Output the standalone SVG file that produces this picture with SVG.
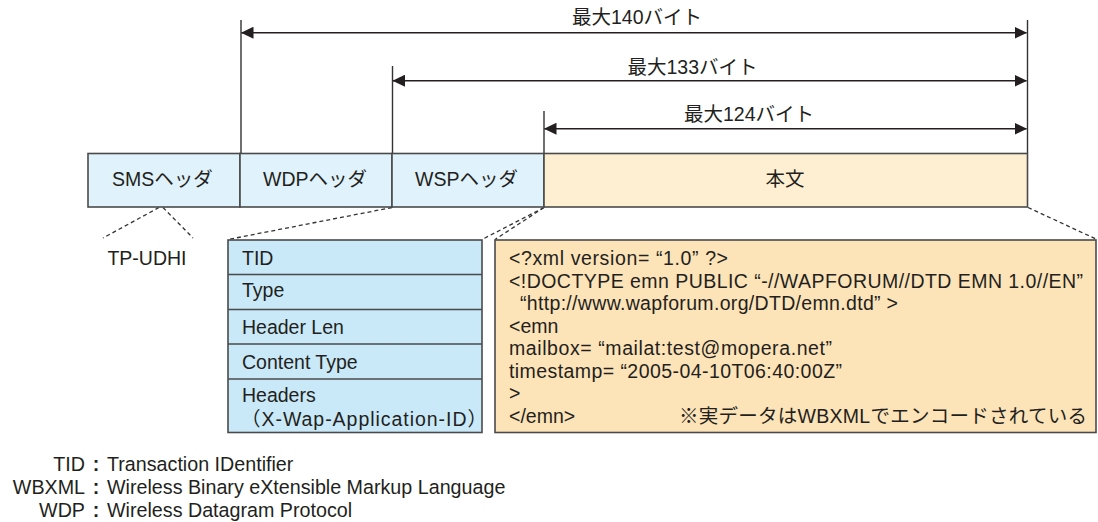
<svg xmlns="http://www.w3.org/2000/svg" width="1098" height="522" viewBox="0 0 1098 522">
<defs>
<marker id="ah" markerUnits="userSpaceOnUse" markerWidth="13" markerHeight="12" refX="12" refY="6" orient="auto-start-reverse">
<path d="M0,0 L12.5,6 L0,12 z" fill="#231f20"/>
</marker>
<style>
text{font-family:"Liberation Sans","Noto Sans CJK JP",sans-serif;font-size:19.5px;fill:#231f20}
.c{text-anchor:middle}
.hb{fill:#e0f2fb;stroke:#4a4a4a;stroke-width:1.6}
.bb{fill:#feefd2;stroke:#4a4a4a;stroke-width:1.6}
.tb{fill:#c9e9f8;stroke:#4a4a4a;stroke-width:1.6}
.cb{fill:#fde3b8;stroke:#4a4a4a;stroke-width:1.6}
.rl{stroke:#4a4a4a;stroke-width:1.4}
.vl{stroke:#333;stroke-width:1.4;fill:none}
.ar{stroke:#231f20;stroke-width:1.6;fill:none;marker-start:url(#ah);marker-end:url(#ah)}
.dl{stroke:#333;stroke-width:1.3;stroke-dasharray:4 3;fill:none}
.cj{font-family:"Noto Sans CJK JP",sans-serif}
.lg{font-size:19.7px}
.co{font-weight:bold;text-anchor:middle}
</style>
</defs>
<rect width="1098" height="522" fill="#fff"/>

<g id="connectors">
<line class="vl" x1="241" y1="20" x2="241" y2="153"/>
<line class="vl" x1="392.5" y1="66" x2="392.5" y2="153"/>
<line class="vl" x1="544" y1="111" x2="544" y2="153"/>
<line class="vl" x1="1027.5" y1="20" x2="1027.5" y2="153"/>
<line class="ar" x1="241.5" y1="32.7" x2="1026.5" y2="32.7"/>
<line class="ar" x1="393" y1="80.7" x2="1026.5" y2="80.7"/>
<line class="ar" x1="544.5" y1="128.7" x2="1026.5" y2="128.7"/>
<line class="dl" x1="159" y1="207.5" x2="103" y2="238"/>
<line class="dl" x1="163" y1="207.5" x2="193" y2="238"/>
<line class="dl" x1="392" y1="207.5" x2="228" y2="239.5"/>
<line class="dl" x1="544" y1="207.5" x2="482" y2="239.5"/>
<line class="dl" x1="544" y1="207.5" x2="495" y2="239.5"/>
<line class="dl" x1="1028" y1="207.5" x2="1097" y2="239.5"/>
</g>

<g id="label-140"><text class="c" x="637" y="24">最大140バイト</text></g>
<g id="label-133"><text class="c" x="692.5" y="74">最大133バイト</text></g>
<g id="label-124"><text class="c" x="749" y="121">最大124バイト</text></g>

<g id="sms-header">
<rect class="hb" x="88" y="153.5" width="152" height="53.5"/>
<text class="c" x="162.5" y="186">SMSヘッダ</text>
</g>
<g id="wdp-header">
<rect class="hb" x="240" y="153.5" width="152" height="53.5"/>
<text class="c" x="315" y="186">WDPヘッダ</text>
</g>
<g id="wsp-header">
<rect class="hb" x="392" y="153.5" width="152" height="53.5"/>
<text class="c" x="466.5" y="186">WSPヘッダ</text>
</g>
<g id="body">
<rect class="bb" x="544" y="153.5" width="483.5" height="53.5"/>
<text class="c" x="785" y="186">本文</text>
</g>

<g id="tp-udhi"><text class="c" x="147" y="265">TP-UDHI</text></g>

<g id="wsp-table">
<rect class="tb" x="228" y="240" width="254" height="192.5"/>
<line class="rl" x1="228" y1="274.5" x2="482" y2="274.5"/>
<line class="rl" x1="228" y1="309.5" x2="482" y2="309.5"/>
<line class="rl" x1="228" y1="344" x2="482" y2="344"/>
<line class="rl" x1="228" y1="379" x2="482" y2="379"/>
<text x="242" y="265">TID</text>
<text x="242" y="297">Type</text>
<text x="242" y="334">Header Len</text>
<text x="242" y="368.5">Content Type</text>
<text x="242" y="402">Headers</text>
<text x="241" y="426" textLength="246" lengthAdjust="spacing"><tspan class="cj">（</tspan>X-Wap-Application-ID<tspan class="cj">）</tspan></text>
</g>

<g id="code-box">
<rect class="cb" x="495" y="240" width="601" height="192.5"/>
<text x="509" y="265" textLength="219" lengthAdjust="spacing">&lt;?xml version= “1.0” ?&gt;</text>
<text x="509" y="287.5" textLength="574" lengthAdjust="spacing">&lt;!DOCTYPE emn PUBLIC “-//WAPFORUM//DTD EMN 1.0//EN”</text>
<text x="520" y="310" textLength="378" lengthAdjust="spacing">“http://www.wapforum.org/DTD/emn.dtd” &gt;</text>
<text x="509" y="332.6">&lt;emn</text>
<text x="509" y="355" textLength="323" lengthAdjust="spacing">mailbox= “mailat:test@mopera.net”</text>
<text x="509" y="377.7" textLength="333" lengthAdjust="spacing">timestamp= “2005-04-10T06:40:00Z”</text>
<text x="509" y="400">&gt;</text>
<text x="509" y="422.7">&lt;/emn&gt;</text>
<text x="679" y="422.7" textLength="408" lengthAdjust="spacing">※実データはWBXMLでエンコードされている</text>
</g>

<g id="legend">
<text class="lg" x="85" y="471" text-anchor="end">TID</text>
<text class="lg" x="85" y="494" text-anchor="end">WBXML</text>
<text class="lg" x="85" y="517" text-anchor="end">WDP</text>
<text class="lg co" x="96" y="471">:</text>
<text class="lg co" x="96" y="494">:</text>
<text class="lg co" x="96" y="517">:</text>
<text class="lg" x="107" y="471">Transaction IDentifier</text>
<text class="lg" x="107" y="494">Wireless Binary eXtensible Markup Language</text>
<text class="lg" x="107" y="517">Wireless Datagram Protocol</text>
</g>
</svg>
